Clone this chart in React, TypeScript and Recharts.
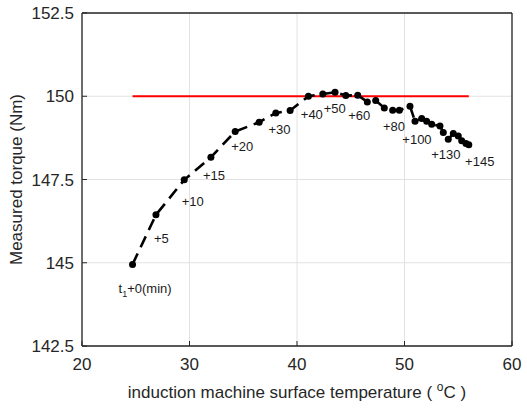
import React from "react";
import { ComposedChart, Line, Scatter, XAxis, YAxis, CartesianGrid, ReferenceLine } from "recharts";

// surface temperature (°C) and measured torque (Nm), one sample every 5 min
const temps = [
  24.7, 26.88, 29.51, 31.99, 34.25, 36.48, 38.03, 39.36, 41.06, 42.4, 43.54, 44.54, 45.65, 46.54, 47.32, 48.12,
  48.9, 49.52, 50.51, 50.98, 51.6, 52.06, 52.53, 53.3, 53.61, 54.07, 54.54, 55.0, 55.32, 55.72, 55.98,
];
const torques = [
  144.95, 146.44, 147.49, 148.17, 148.94, 149.22, 149.5, 149.57, 150.0, 150.07, 150.12, 150.02, 150.03, 149.83,
  149.87, 149.65, 149.58, 149.58, 149.7, 149.25, 149.33, 149.25, 149.16, 149.11, 148.91, 148.71, 148.88, 148.81,
  148.66, 148.58, 148.54,
];
const ratedTorque = 150;

// time annotations
const labelTexts = ["t1+0(min)", "+5", "+10", "+15", "+20", "+30", "+40", "+50", "+60", "+80", "+100", "+130", "+145"];
const labelX = [25.87, 27.39, 30.3, 32.28, 34.9, 38.37, 41.38, 43.51, 45.79, 49.02, 51.16, 53.84, 57.0];
const labelY = [144.23, 145.74, 146.85, 147.61, 148.49, 148.99, 149.45, 149.62, 149.42, 149.08, 148.69, 148.26, 148.04];

const xTicks = [20, 30, 40, 50, 60];
const yTicks = [142.5, 145, 147.5, 150, 152.5];
const xDomain = [20, 60];
const yDomain = [142.5, 152.5];

const mainData = temps.map((t, i) => ({ x: t, y: torques[i] }));
const refData = [
  { x: temps[0], y: ratedTorque },
  { x: temps[temps.length - 1], y: ratedTorque },
];
const labelData = labelTexts.map((text, i) => ({ x: labelX[i], y: labelY[i], text }));

const AXIS = "#262626";

const renderLabel = (props: any) => {
  const { cx, cy, payload } = props;
  if (cx == null || cy == null) return <g />;
  const text: string = payload.text;
  if (text.startsWith("t1")) {
    return (
      <text x={cx} y={cy} dy="0.35em" textAnchor="middle" fontSize={13} fill="#1a1a1a">
        t<tspan dy={4} fontSize={9}>1</tspan>
        <tspan dy={-4}>{text.slice(2)}</tspan>
      </text>
    );
  }
  return (
    <text x={cx} y={cy} dy="0.35em" textAnchor="middle" fontSize={13} fill="#1a1a1a">
      {text}
    </text>
  );
};

const XTitle = (props: any) => {
  const vb = props.viewBox || { x: 82, y: 346, width: 430 };
  return (
    <text x={vb.x + vb.width / 2} y={vb.y + 52} textAnchor="middle" fontSize={17} fill={AXIS}>
      {"induction machine surface temperature ( "}
      <tspan dy={-7} fontSize={12}>o</tspan>
      <tspan dy={7}>{"C )"}</tspan>
    </text>
  );
};

const YTitle = (props: any) => {
  const vb = props.viewBox || { x: 0, y: 13, width: 82, height: 333 };
  const cx = vb.x + 22;
  const cy = vb.y + vb.height / 2;
  return (
    <text x={cx} y={cy} transform={`rotate(-90 ${cx} ${cy})`} textAnchor="middle" fontSize={17} fill={AXIS}>
      Measured torque (Nm)
    </text>
  );
};

export default function App() {
  return (
    <div
      style={{
        position: "absolute",
        left: 0,
        top: 0,
        width: 527,
        height: 413,
        background: "#fff",
        fontFamily: "'Liberation Sans', Arial, sans-serif",
      }}
    >
      <ComposedChart width={527} height={413} margin={{ top: 13, right: 15, bottom: 0, left: 0 }}>
        <CartesianGrid stroke="#e2e2e2" strokeWidth={1} />
        <XAxis
          type="number"
          dataKey="x"
          domain={xDomain}
          ticks={xTicks}
          height={67}
          tickSize={-5}
          tickMargin={17}
          axisLine={{ stroke: AXIS, strokeWidth: 1.3 }}
          tickLine={{ stroke: AXIS }}
          tick={{ fill: AXIS, fontSize: 17 }}
          label={{ content: XTitle }}
          allowDataOverflow
        />
        <YAxis
          type="number"
          domain={yDomain}
          ticks={yTicks}
          width={82}
          tickSize={-5}
          tickMargin={13}
          axisLine={{ stroke: AXIS, strokeWidth: 1.3 }}
          tickLine={{ stroke: AXIS }}
          tick={{ fill: AXIS, fontSize: 17 }}
          label={{ content: YTitle }}
          allowDataOverflow
        />
        {/* top and right edges of the axes box */}
        <ReferenceLine y={yDomain[1]} stroke={AXIS} strokeWidth={1.3} ifOverflow="visible" />
        <ReferenceLine x={xDomain[1]} stroke={AXIS} strokeWidth={1.3} ifOverflow="visible" />
        <Line
          data={refData}
          dataKey="y"
          stroke="#f00"
          strokeWidth={2}
          dot={false}
          activeDot={false}
          isAnimationActive={false}
        />
        <Line
          data={mainData}
          dataKey="y"
          type="linear"
          stroke="#000"
          strokeWidth={2.6}
          strokeDasharray="12 7"
          dot={{ r: 3.5, fill: "#000", stroke: "none", strokeDasharray: "none" }}
          activeDot={false}
          isAnimationActive={false}
        />
        <Scatter data={labelData} dataKey="y" shape={renderLabel} isAnimationActive={false} />
      </ComposedChart>
    </div>
  );
}
